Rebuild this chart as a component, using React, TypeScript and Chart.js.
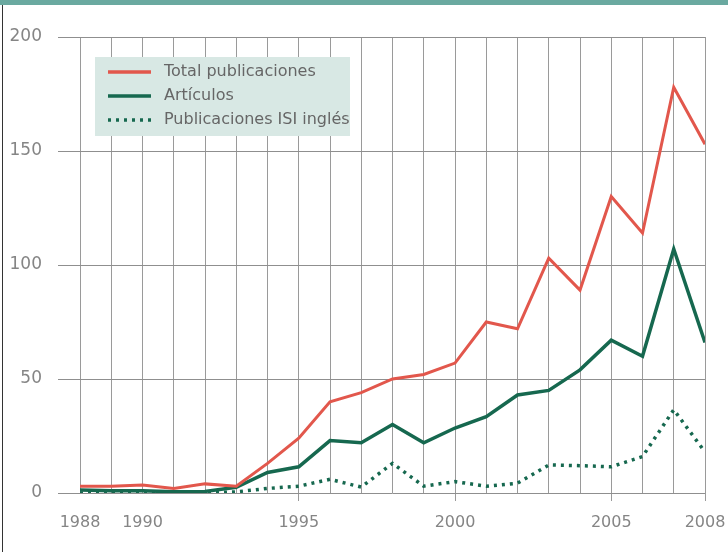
import React, { useEffect, useRef } from "react";
import { Chart, registerables } from "chart.js";

Chart.register(...registerables);

const years = [1988, 1989, 1990, 1991, 1992, 1993, 1994, 1995, 1996, 1997, 1998, 1999, 2000, 2001, 2002, 2003, 2004, 2005, 2006, 2007, 2008];
const totalPublicaciones = [3, 3, 3.5, 2, 4, 3, 13, 24, 40, 44, 50, 52, 57, 75, 72, 103, 89, 130, 114, 178, 153];
const articulos = [1.3, 1, 1, 0.5, 0.7, 2.5, 9, 11.5, 23, 22, 30, 22, 28.5, 33.5, 43, 45, 54, 67, 60, 107, 66];
const isiIngles = [0, 0, 0, 0, 0, 0.5, 2, 3, 6, 2.6, 13, 3, 5, 3, 4.3, 12.3, 12, 11.5, 16, 36.5, 18];
const xTickLabels = [1988, 1990, 1995, 2000, 2005, 2008];
const xTickMarks = [1995, 2000, 2005, 2008];
const yTicks = [0, 50, 100, 150, 200];
const seriesNames = ["Total publicaciones", "Artículos", "Publicaciones ISI inglés"];

const FONT = "'DejaVu Sans', sans-serif";
const RED = "#e2574c";
const GREEN = "#16684f";

const framePlugin = {
  id: "frame",
  beforeDraw(chart: any) {
    const ctx = chart.ctx;
    ctx.save();
    ctx.fillStyle = "#ffffff";
    ctx.fillRect(0, 0, chart.width, chart.height);
    ctx.fillStyle = "#6aa9a0";
    ctx.fillRect(0, 0, chart.width, 5);
    ctx.fillStyle = "#333333";
    ctx.fillRect(2, 5, 1, chart.height - 5);
    ctx.restore();
  },
};

const legendPlugin = {
  id: "customLegend",
  afterDatasetsDraw(chart: any) {
    const ctx = chart.ctx;
    ctx.save();
    ctx.fillStyle = "#d8e8e4";
    ctx.fillRect(95, 57, 255, 79);
    const rows = [72, 96, 120];
    chart.data.datasets.forEach((ds: any, i: number) => {
      const y = rows[i];
      ctx.beginPath();
      ctx.strokeStyle = ds.borderColor;
      ctx.lineWidth = 3.5;
      ctx.setLineDash(ds.borderDash || []);
      ctx.moveTo(108, y);
      ctx.lineTo(151, y);
      ctx.stroke();
      ctx.setLineDash([]);
      ctx.fillStyle = "#666666";
      ctx.font = "16px " + FONT;
      ctx.textBaseline = "middle";
      ctx.textAlign = "left";
      ctx.fillText(ds.label, 164, y);
    });
    ctx.restore();
  },
};

export default function App() {
  const ref = useRef<HTMLCanvasElement>(null);
  useEffect(() => {
    document.body.style.margin = "0";
    const toPts = (arr: number[]) => years.map((x, i) => ({ x, y: arr[i] }));
    const chart = new Chart(ref.current as HTMLCanvasElement, {
      type: "line",
      data: {
        datasets: [
          { label: seriesNames[0], data: toPts(totalPublicaciones), borderColor: RED, borderWidth: 3, pointRadius: 0, tension: 0 },
          { label: seriesNames[1], data: toPts(articulos), borderColor: GREEN, borderWidth: 3.5, pointRadius: 0, tension: 0 },
          { label: seriesNames[2], data: toPts(isiIngles), borderColor: GREEN, borderWidth: 3.5, borderDash: [3, 5], pointRadius: 0, tension: 0 },
        ],
      },
      options: {
        animation: false,
        responsive: false,
        layout: { padding: { left: 0, top: 37, right: 23, bottom: 0 } },
        plugins: { legend: { display: false }, tooltip: { enabled: false } },
        scales: {
          x: {
            type: "linear",
            min: years[0],
            max: years[years.length - 1],
            afterBuildTicks: (scale: any) => {
              scale.ticks = years.map((v) => ({ value: v }));
            },
            afterFit: (scale: any) => {
              scale.height = 59;
              scale.paddingLeft = 0;
              scale.paddingRight = 0;
            },
            ticks: {
              autoSkip: false,
              maxRotation: 0,
              padding: 12,
              color: "#858585",
              font: { family: FONT, size: 16 },
              callback: (v: any) => (xTickLabels.includes(Number(v)) ? String(v) : ""),
            },
            grid: {
              color: "#9a9a9a",
              lineWidth: 1,
              drawTicks: true,
              tickLength: 8,
              tickColor: (c: any) => (c.tick && xTickMarks.includes(c.tick.value) ? "#9a9a9a" : "rgba(0,0,0,0)"),
            },
            border: { display: false },
          },
          y: {
            min: 0,
            max: 200,
            afterBuildTicks: (scale: any) => {
              scale.ticks = yTicks.map((v) => ({ value: v }));
            },
            afterFit: (scale: any) => {
              scale.width = 80;
              scale.paddingTop = 0;
              scale.paddingBottom = 0;
            },
            ticks: {
              padding: 16,
              color: "#858585",
              font: { family: FONT, size: 17 },
            },
            grid: { color: "#8f8f8f", lineWidth: 1, tickLength: 22 },
            border: { display: false },
          },
        },
      },
      plugins: [framePlugin, legendPlugin],
    });
    return () => chart.destroy();
  }, []);
  return <canvas ref={ref} width={728} height={552} style={{ display: "block" }} />;
}
